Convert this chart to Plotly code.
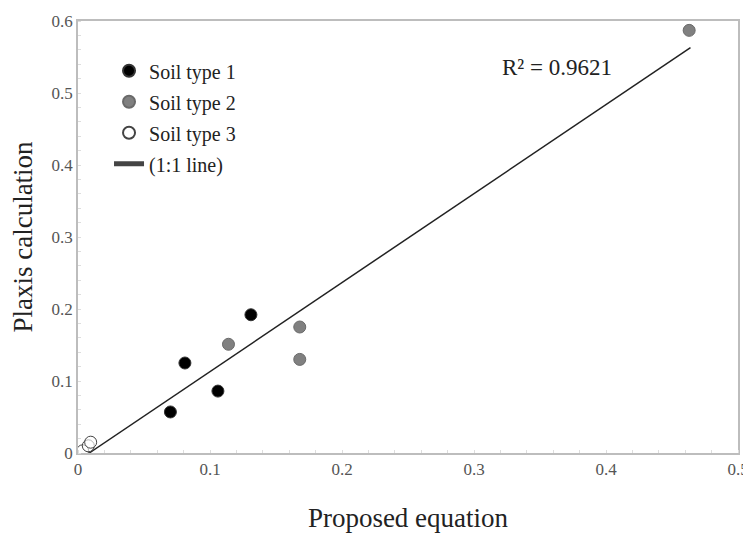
import plotly.graph_objects as go

# Data
soil1_x = [0.070, 0.081, 0.106, 0.131]
soil1_y = [0.057, 0.125, 0.086, 0.192]

soil2_x = [0.114, 0.168, 0.168, 0.463]
soil2_y = [0.151, 0.175, 0.130, 0.587]

soil3_x = [0.0035, 0.0078, 0.0096]
soil3_y = [0.003, 0.010, 0.015]

line_x = [0.0085, 0.464]
line_y = [0.0, 0.563]

x_ticks = [0, 0.1, 0.2, 0.3, 0.4, 0.5]
x_tick_labels = ["0", "0.1", "0.2", "0.3", "0.4", "0.5"]
y_ticks = [0, 0.1, 0.2, 0.3, 0.4, 0.5, 0.6]
y_tick_labels = ["0", "0.1", "0.2", "0.3", "0.4", "0.5", "0.6"]

r2_text = "R² = 0.9621"

FONT = "Liberation Serif"

fig = go.Figure()

fig.add_trace(go.Scatter(
    x=line_x, y=line_y, mode="lines", name="(1:1 line)",
    line=dict(color="#222222", width=1.5), showlegend=False))

fig.add_trace(go.Scatter(
    x=soil1_x, y=soil1_y, mode="markers", name="Soil type 1", legendgroup="g1",
    marker=dict(size=12, color="#000000", line=dict(color="#333333", width=1))))
fig.add_trace(go.Scatter(
    x=soil2_x, y=soil2_y, mode="markers", name="Soil type 2", legendgroup="g2",
    marker=dict(size=12, color="#808080", line=dict(color="#6a6a6a", width=1))))
fig.add_trace(go.Scatter(
    x=soil3_x, y=soil3_y, mode="markers", name="Soil type 3", legendgroup="g3",
    marker=dict(size=12, color="rgba(255,255,255,0.6)", line=dict(color="#444444", width=1))))
# legend entry for line
fig.add_trace(go.Scatter(
    x=[None], y=[None], mode="lines", name="(1:1 line)", legendgroup="g4",
    line=dict(color="#444444", width=2.5)))

fig.add_annotation(
    x=0.3197, y=0.535, xref="x", yref="y", text=r2_text, showarrow=False,
    xanchor="left", yanchor="middle",
    font=dict(family=FONT, size=23, color="#222222"),
)

# the page body has an 8px margin, so the figure is 8px smaller than the window
fig.update_layout(
    width=743, height=528,
    margin=dict(l=70, r=13, t=13, b=83),
    paper_bgcolor="white", plot_bgcolor="white",
    font=dict(family=FONT, color="#444444"),
    showlegend=True,
    legend=dict(
        x=0.047, y=0.93, xanchor="left", yanchor="top",
        bgcolor="rgba(0,0,0,0)",
        font=dict(family=FONT, size=20, color="#222222"),
        itemsizing="constant", tracegroupgap=2, traceorder="grouped",
        itemwidth=30,
    ),
    xaxis=dict(
        range=[0, 0.5], tickvals=x_ticks, ticktext=x_tick_labels,
        showgrid=False, zeroline=False, automargin=False,
        showline=True, linecolor="#bdbdbd", linewidth=1.5, mirror=True,
        ticks="", tickfont=dict(family=FONT, size=17, color="#555555"),
        minor=dict(dtick=0.02, ticks="inside", ticklen=3, tickcolor="#dddddd"),
        title=dict(text="Proposed equation", font=dict(family=FONT, size=27, color="#222222"), standoff=30),
    ),
    yaxis=dict(
        range=[0, 0.6], tickvals=y_ticks, ticktext=y_tick_labels,
        showgrid=False, zeroline=False, automargin=False,
        showline=True, linecolor="#bdbdbd", linewidth=1.5, mirror=True,
        ticks="", tickfont=dict(family=FONT, size=17, color="#555555"),
        minor=dict(dtick=0.02, ticks="inside", ticklen=3, tickcolor="#dddddd"),
        title=dict(text="Plaxis calculation", font=dict(family=FONT, size=27, color="#222222"), standoff=16),
    ),
)

fig.write_html("out.html")
